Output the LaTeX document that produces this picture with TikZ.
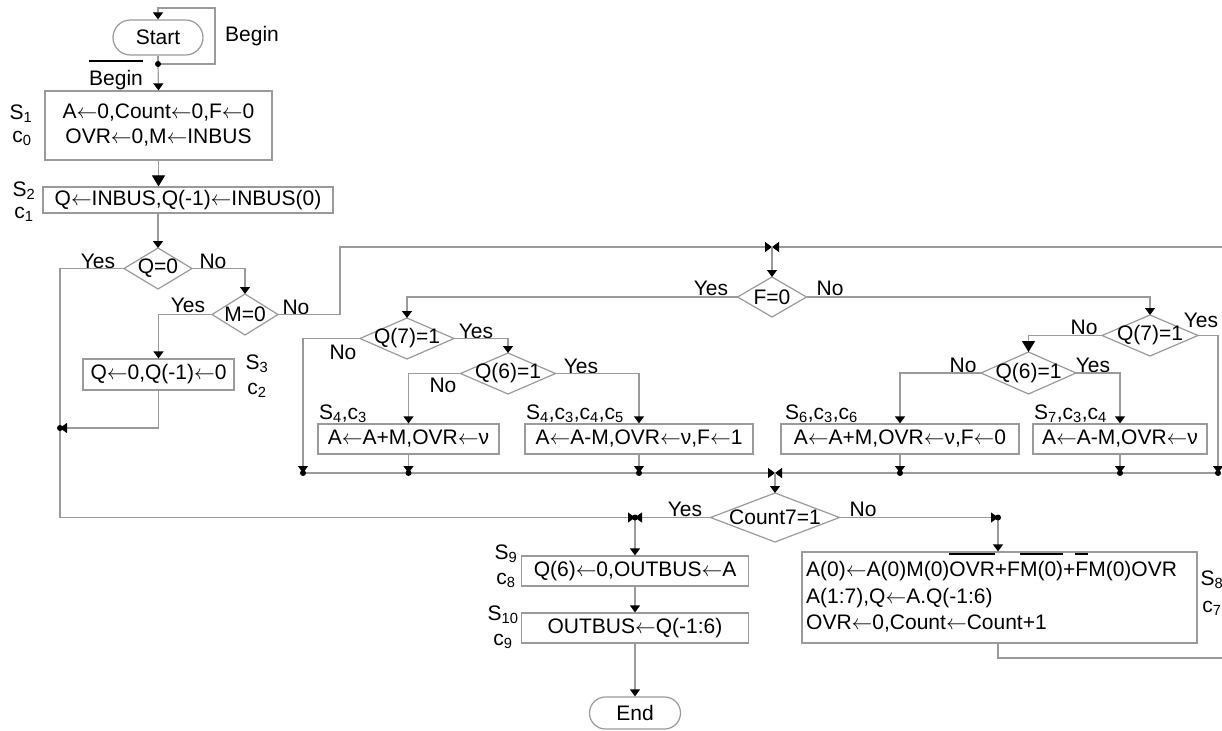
\documentclass[tikz,border=0pt]{standalone}
\usepackage{fontspec}
\setmainfont{Liberation Sans}
\usetikzlibrary{arrows.meta,shapes.geometric,shapes.misc}
\definecolor{lc}{HTML}{9A9A9A}
\newlength\olwd
\newcommand\olbar[2][1.05em]{\settowidth{\olwd}{#2}\rlap{\smash{\rule[#1]{\olwd}{2pt}}}#2}
\newcommand\sbs[1]{\textsubscript{#1}}
\newcommand\lar{\ensuremath{\leftarrow}}
\begin{document}
\begin{tikzpicture}[x=1pt,y=-1pt,font=\fontsize{21}{25}\selectfont,
 ln/.style={draw=lc,line width=1.2pt},
 arr/.style={ln,-{Triangle[width=10pt,length=7pt,color=black]}},
 bigarr/.style={ln,-{Triangle[width=13pt,length=11pt,color=black]}},
 box/.style={draw=lc,line width=1.2pt,inner sep=0pt,align=center},
 term/.style={rounded rectangle,draw=lc,line width=1.2pt,inner sep=0pt},
 dia/.style={diamond,draw=lc,line width=1.2pt,inner sep=0pt,outer sep=0pt},
 lab/.style={inner sep=0pt}]
\fill[white] (0,0) rectangle (1222,730);
\useasboundingbox (0,0) rectangle (1222,730);
% junction coordinates
\coordinate (d0) at (158,64);
\coordinate (lp1) at (215,64);
\coordinate (lp2) at (215,8);
\coordinate (lp3) at (158,8);
\coordinate (j1) at (60,428);
\coordinate (j2) at (772,247);
\coordinate (mn) at (340,247);
\coordinate (rt) at (1222,247);
\coordinate (bA) at (303,473);
\coordinate (bF) at (1218,473);
\coordinate (j4) at (775,473);
\coordinate (j3) at (635,517.5);
\coordinate (j5) at (998,517.5);
\coordinate (re) at (1222,658);
% start
\node[term,minimum width=90pt,minimum height=35pt] (start) at (158,37.5) {Start};
\node[lab] (beginr) at (252,36) {Begin};
\node[lab] (beginl) at (116,80) {\olbar[1.1em]{Begin}};
% S1, S2
\node[box,minimum width=227pt,minimum height=69pt] (s1) at (158.5,125.5) {A\lar0,Count\lar0,F\lar0\\OVR\lar0,M\lar INBUS};
\node[lab] (s1l) at (21,114) {S\sbs{1}};
\node[lab] (c0l) at (22,138) {c\sbs{0}};
\node[box,minimum width=290pt,minimum height=26pt] (s2) at (188,200) {Q\lar INBUS,Q(-1)\lar INBUS(0)};
\node[lab] (s2l) at (24,191) {S\sbs{2}};
\node[lab] (c1l) at (24,214) {c\sbs{1}};
% Q=0, M=0
\node[dia,minimum width=68pt,minimum height=41pt] (q0) at (158,268.5) {};
\node[lab] (q0t) at (q0) {Q=0};
\node[lab] (q0y) at (98,261) {Yes};
\node[lab] (q0n) at (213,261) {No};
\node[dia,minimum width=66pt,minimum height=41pt] (m0) at (245,314.5) {};
\node[lab] (m0t) at (m0) {M=0};
\node[lab] (m0y) at (188,305) {Yes};
\node[lab] (m0n) at (296,307) {No};
\node[box,minimum width=151pt,minimum height=31pt] (s3) at (158.5,374.5) {Q\lar0,Q(-1)\lar0};
\node[lab] (s3l) at (257,364) {S\sbs{3}};
\node[lab] (c2l) at (257,390) {c\sbs{2}};
% F=0
\node[dia,minimum width=69pt,minimum height=40pt] (f0) at (772,297) {};
\node[lab] (f0t) at (f0) {F=0};
\node[lab] (f0y) at (711,288) {Yes};
\node[lab] (f0n) at (830,288) {No};
% left branch
\node[dia,minimum width=94pt,minimum height=41pt] (ql7) at (407,338.5) {};
\node[lab] (ql7t) at (ql7) {Q(7)=1};
\node[lab] (ql7n) at (343,352) {No};
\node[lab] (ql7y) at (476,331) {Yes};
\node[dia,minimum width=95pt,minimum height=41pt] (ql6) at (508,373.5) {};
\node[lab] (ql6t) at (ql6) {Q(6)=1};
\node[lab] (ql6n) at (443,385) {No};
\node[lab] (ql6y) at (581,366) {Yes};
\node[box,minimum width=181pt,minimum height=30pt] (b1) at (408.5,439) {A\lar A+M,OVR\lar ν};
\node[lab,anchor=west] (b1l) at (319,414) {S\sbs{4},c\sbs{3}};
\node[box,minimum width=228pt,minimum height=30pt] (b2) at (639,439) {A\lar A-M,OVR\lar ν,F\lar1};
\node[lab,anchor=west] (b2l) at (526,414) {S\sbs{4},c\sbs{3},c\sbs{4},c\sbs{5}};
% right branch
\node[dia,minimum width=96pt,minimum height=41pt] (qr7) at (1150,335.5) {};
\node[lab] (qr7t) at (qr7) {Q(7)=1};
\node[lab] (qr7n) at (1084,327) {No};
\node[lab] (qr7y) at (1201,320) {Yes};
\node[dia,minimum width=95pt,minimum height=42pt] (qr6) at (1028.5,373) {};
\node[lab] (qr6t) at (qr6) {Q(6)=1};
\node[lab] (qr6n) at (963,365) {No};
\node[lab] (qr6y) at (1093,365) {Yes};
\node[box,minimum width=238pt,minimum height=30pt] (b3) at (900,439) {A\lar A+M,OVR\lar ν,F\lar0};
\node[lab,anchor=west] (b3l) at (785,414) {S\sbs{6},c\sbs{3},c\sbs{6}};
\node[box,minimum width=174pt,minimum height=30pt] (b4) at (1120,439) {A\lar A-M,OVR\lar ν};
\node[lab,anchor=west] (b4l) at (1034,414) {S\sbs{7},c\sbs{3},c\sbs{4}};
% Count
\node[dia,minimum width=129pt,minimum height=49pt] (ct) at (775,517.5) {};
\node[lab] (ctt) at (ct) {Count7=1};
\node[lab] (cty) at (685,509) {Yes};
\node[lab] (ctn) at (863,509) {No};
% S9, S10, End
\node[box,minimum width=227pt,minimum height=30pt] (s9) at (635,571) {Q(6)\lar0,OUTBUS\lar A};
\node[lab] (s9l) at (506,554) {S\sbs{9}};
\node[lab] (c8l) at (506,580) {c\sbs{8}};
\node[box,minimum width=227pt,minimum height=30pt] (s10) at (635,628) {OUTBUS\lar Q(-1:6)};
\node[lab] (s10l) at (503,615) {S\sbs{10}};
\node[lab] (c9l) at (503,641) {c\sbs{9}};
\node[term,minimum width=91pt,minimum height=32pt] (end) at (635,713) {End};
% S8
\node[box,minimum width=395pt,minimum height=91pt] (s8) at (999.5,597.5) {};
\node[lab,anchor=west,align=left,font=\fontsize{21}{26.5}\selectfont] (s8t) at (806,597) {A(0)\lar A(0)M(0)\olbar{OVR}+F\olbar{M(0)}+\olbar{F}M(0)OVR\\A(1:7),Q\lar A.Q(-1:6)\\OVR\lar0,Count\lar Count+1};
\node[lab] (s8l) at (1212,580) {S\sbs{8}};
\node[lab] (c7l) at (1212,608) {c\sbs{7}};
% connectors
\draw[ln] (start.south) -- (d0);
\draw[arr] (d0) -- (lp1) -- (lp2) -- (lp3) -- (start.north);
\draw[arr] (d0) -- (s1.north);
\draw[bigarr] (s1.south) -- (s1.south |- s2.north);
\draw[arr] (q0.north |- s2.south) -- (q0.north);
\draw[arr] (q0.west) -- (q0.west -| j1) -- (j1 |- j3) -- (j3);
\draw[arr] (q0.east) -| (m0.north);
\draw[arr] (m0.west) -| (s3.north);
\draw[arr] (s3.south) |- (j1);
\draw[arr] (m0.east) -| (mn) -- (j2);
\draw[arr] (rt) -- (j2);
\draw[arr] (j2) -- (f0.north);
\draw[arr] (f0.west) -| (ql7.north);
\draw[arr] (ql7.west) -| (bA);
\draw[arr] (ql7.east) -| (ql6.north);
\draw[arr] (ql6.west) -| (b1.north);
\draw[arr] (ql6.east) -| (b2.north);
\draw[arr] (b1.south) -- (b1.south |- bA);
\draw[arr] (b2.south) -- (b2.south |- bA);
\draw[arr] (f0.east) -| (qr7.north);
\draw[arr] (qr7.east) -| (bF);
\draw[bigarr] (qr7.west) -| (qr6.north);
\draw[arr] (qr6.west) -| (b3.north);
\draw[arr] (qr6.east) -| (b4.north);
\draw[arr] (b3.south) -- (b3.south |- bA);
\draw[arr] (b4.south) -- (b4.south |- bA);
\draw[arr] (bA) -- (j4);
\draw[arr] (bF) -- (j4);
\draw[arr] (j4) -- (ct.north);
\draw[arr] (ct.west) -- (j3);
\draw[arr] (ct.east) -- (j5);
\draw[arr] (j3) -- (s9.north);
\draw[arr] (s9.south) -- (s10.north);
\draw[arr] (s10.south) -- (end.north);
\draw[arr] (j5) -- (j5 |- s8.north);
\draw[ln] (j5 |- s8.south) -- (j5 |- re) -- (re);
% junction dots
\foreach \p in {d0,j1,j3,j5,bA,bF,b1.south |- bA,b2.south |- bA,b3.south |- bA,b4.south |- bA}
  \fill[black] (\p) circle (3pt);
\end{tikzpicture}
\end{document}
